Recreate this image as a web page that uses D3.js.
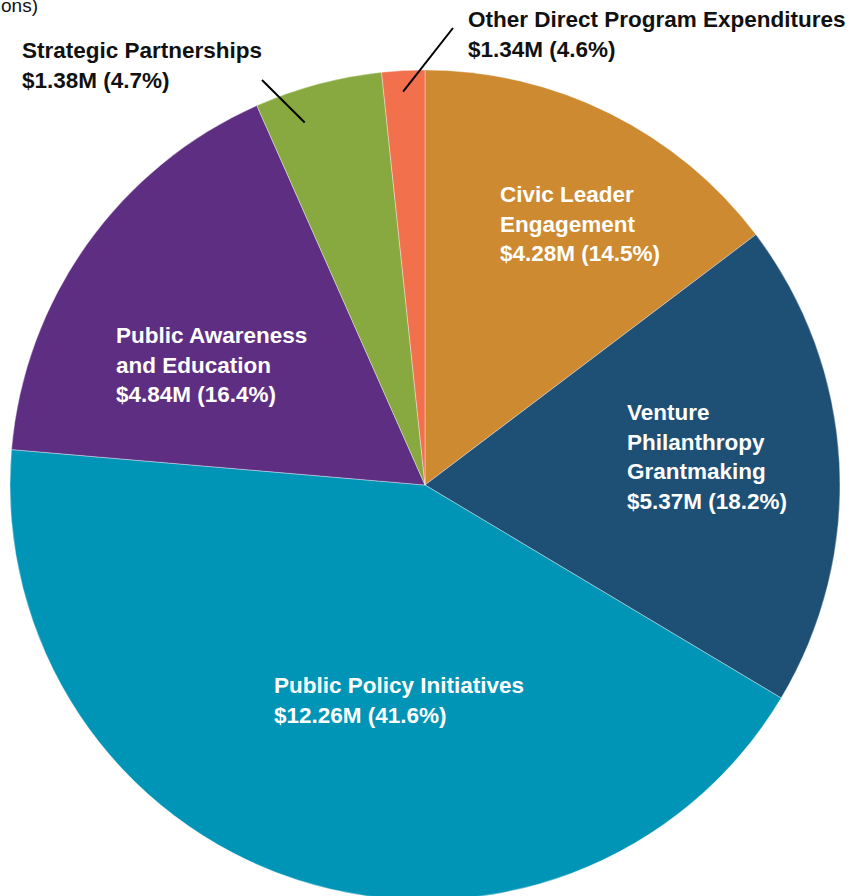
<!DOCTYPE html>
<html>
<head>
<meta charset="utf-8">
<script src="https://cdn.jsdelivr.net/npm/d3@7"></script>
<style>
  html, body { margin: 0; padding: 0; background: #fff; }
  svg { display: block; }
  text { font-family: "Liberation Sans", Arial, Helvetica, sans-serif; }
</style>
</head>
<body>
<svg id="chart" width="856" height="896"></svg>
<script>
// ---- Data ----
const categories = [
  "Civic Leader Engagement",
  "Venture Philanthropy Grantmaking",
  "Public Policy Initiatives",
  "Public Awareness and Education",
  "Strategic Partnerships",
  "Other Direct Program Expenditures"
];
// Dollar amounts (millions) and percentages as printed in the labels
const amounts = [4.28, 5.37, 12.26, 4.84, 1.38, 1.34];
const percents = [14.5, 18.2, 41.6, 16.4, 4.7, 4.6];
// Slice shares as drawn in the picture (percent of the circle)
const drawnShares = [14.69, 18.89, 42.78, 17.0, 4.97, 1.67];
// Label line breaks
const labelLines = [
  ["Civic Leader", "Engagement"],
  ["Venture", "Philanthropy", "Grantmaking"],
  ["Public Policy Initiatives"],
  ["Public Awareness", "and Education"],
  ["Strategic Partnerships"],
  ["Other Direct Program Expenditures"]
];
const colors = ["#CD8A30", "#1E4F75", "#0095B7", "#5E2E82", "#88A840", "#F3704C"];

// ---- Layout ----
const cx = 425, cy = 485, R = 415;
const svg = d3.select("#chart");
const g = svg.append("g").attr("transform", `translate(${cx},${cy})`);

const pie = d3.pie().sort(null).value(d => d.share);
const data = categories.map((c, i) => ({
  name: c, amount: amounts[i], pct: percents[i], share: drawnShares[i],
  lines: labelLines[i], color: colors[i]
}));
const arcs = pie(data);
const arc = d3.arc().innerRadius(0).outerRadius(R);

g.selectAll("path.slice")
  .data(arcs)
  .enter().append("path")
  .attr("class", "slice")
  .attr("d", arc)
  .attr("fill", d => d.data.color)
  .attr("stroke", "#ffffff")
  .attr("stroke-width", 0.6)
  .attr("stroke-opacity", 0.6);

// Label placement (absolute page coords), inside labels white, outside labels black
const fontSize = 22.5;
const lineH = 29.5;
const labelPos = [
  { x: 500, y: 202, fill: "#fff" },
  { x: 627, y: 420, fill: "#fff" },
  { x: 274, y: 693, fill: "#fff" },
  { x: 116, y: 343, fill: "#fff" },
  { x: 22, y: 58, fill: "#111" },
  { x: 468, y: 27, fill: "#111" }
];
const fmt = d => `$${d.amount.toFixed(2)}M (${d.pct.toFixed(1)}%)`;

const labels = svg.append("g");
data.forEach((d, i) => {
  const p = labelPos[i];
  const t = labels.append("text")
    .attr("x", p.x).attr("y", p.y)
    .attr("fill", p.fill)
    .attr("font-size", fontSize)
    .attr("font-weight", "bold");
  const all = d.lines.concat([fmt(d)]);
  all.forEach((ln, k) => {
    t.append("tspan").attr("x", p.x).attr("y", p.y + k * lineH).text(ln);
  });
});

// Leader lines for the two small slices
const leaders = [
  { idx: 4, t: 0.31, r: 382, to: [262, 80] },
  { idx: 5, t: 0.47, r: 394, to: [453, 28] }
];
leaders.forEach(L => {
  const a = arcs[L.idx];
  const ang = a.startAngle + L.t * (a.endAngle - a.startAngle);
  const x1 = cx + L.r * Math.sin(ang), y1 = cy - L.r * Math.cos(ang);
  svg.append("line")
    .attr("x1", x1).attr("y1", y1)
    .attr("x2", L.to[0]).attr("y2", L.to[1])
    .attr("stroke", "#000").attr("stroke-width", 2);
});

// Partially visible title text at top-left
svg.append("text")
  .attr("x", 38).attr("y", 12)
  .attr("text-anchor", "end")
  .attr("font-size", 19)
  .attr("fill", "#111")
  .text("Program Expenditures (in millions)");
</script>
</body>
</html>
